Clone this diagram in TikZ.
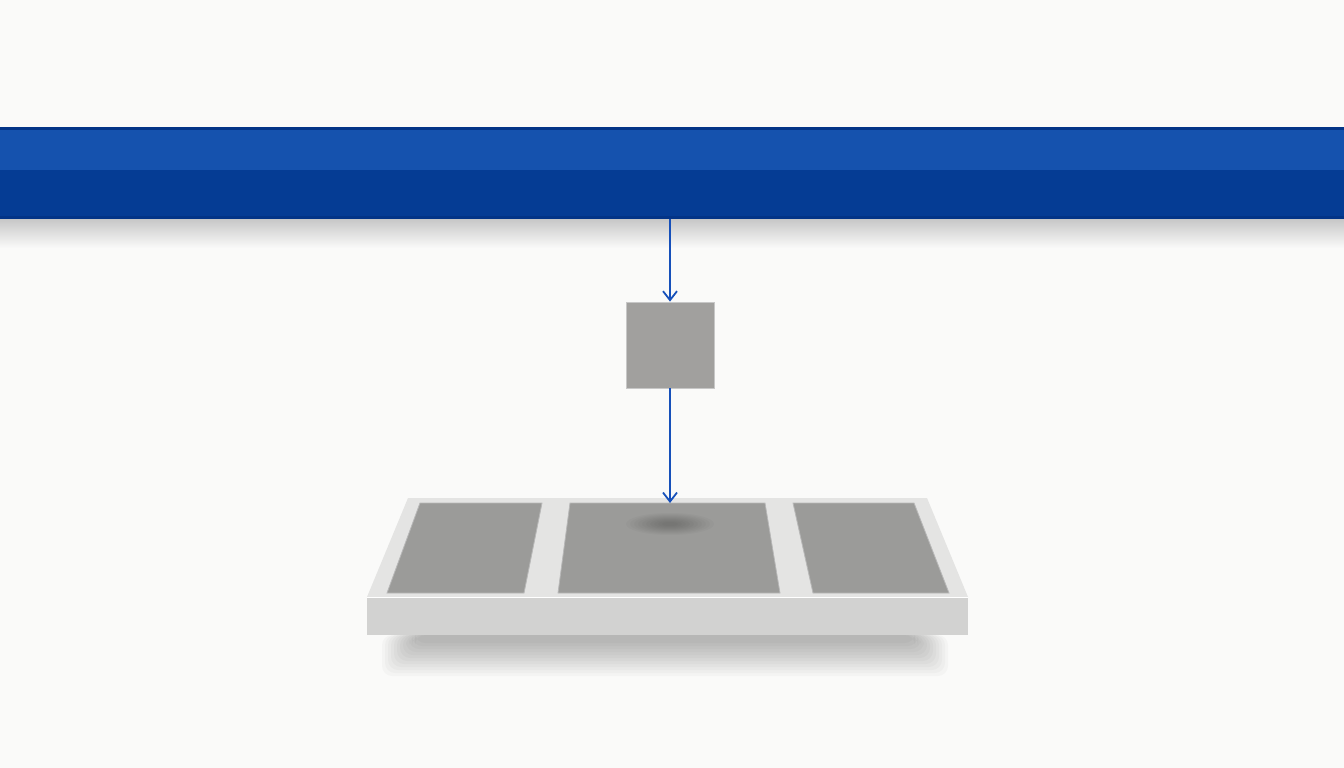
\documentclass[tikz,border=0pt]{standalone}
\usepackage{tikz}
\usetikzlibrary{arrows.meta}
\definecolor{bgwhite}{RGB}{250,250,249}
\definecolor{barlight}{RGB}{21,82,174}
\definecolor{bardark}{RGB}{5,60,148}
\definecolor{baredge}{RGB}{3,52,135}
\definecolor{linkblue}{RGB}{22,80,186}
\definecolor{boxgray}{RGB}{161,160,158}
\definecolor{panelgray}{RGB}{155,155,153}
\definecolor{padtopc}{RGB}{228,228,227}
\definecolor{padfront}{RGB}{210,210,209}
\tikzset{link/.style={line width=2pt, linkblue, -{Straight Barb[length=9pt,width=14pt,line width=1.8pt]}},
  panel/.style={fill=panelgray, draw=black!28, line width=0.8pt}}
\begin{document}
\begin{tikzpicture}[x=1pt,y=-1pt]
\fill[bgwhite] (0,0) rectangle (1344,768);
\useasboundingbox (0,0) rectangle (1344,768);
% bar and its shadow
\shade[top color=black!22, bottom color=bgwhite] (0,219) rectangle (1344,248);
\fill[barlight] (0,127) rectangle (1344,170);
\fill[bardark] (0,170) rectangle (1344,219);
\fill[baredge] (0,127) rectangle (1344,130);
\fill[baredge] (0,216) rectangle (1344,219);
% platform shadow
\foreach \i in {0,...,11}
  \fill[black, opacity=0.025, rounded corners=10pt] (382+3*\i,635) rectangle (948-3*\i,676-3*\i);
% platform
\fill[padtopc] (408,498) -- (927,498) -- (968,597) -- (367,597) -- cycle;
\fill[padfront] (367,597) rectangle (968,635);
\draw[white, line width=0.8pt] (367,597) -- (968,597);
\draw[panel] (420,503) -- (542,503) -- (524,593) -- (387,593) -- cycle;
\draw[panel] (570,503) -- (765,503) -- (780,593) -- (558,593) -- cycle;
\draw[panel] (793,503) -- (914,503) -- (949,593) -- (813,593) -- cycle;
\foreach \i in {0,...,9}
  \fill[black, opacity=0.025] (670,524) ellipse ({44-4*\i} and {11-\i});
% nodes and links
\coordinate (barbot) at (670,219);
\node[fill=boxgray, draw=black!22, line width=0.8pt, minimum width=88pt, minimum height=86pt, inner sep=0pt] (sq) at (670,345) {};
\coordinate (padin) at (670,503);
\draw[link] (barbot) -- (sq.north);
\draw[link] (sq.south) -- (padin);
\end{tikzpicture}
\end{document}
